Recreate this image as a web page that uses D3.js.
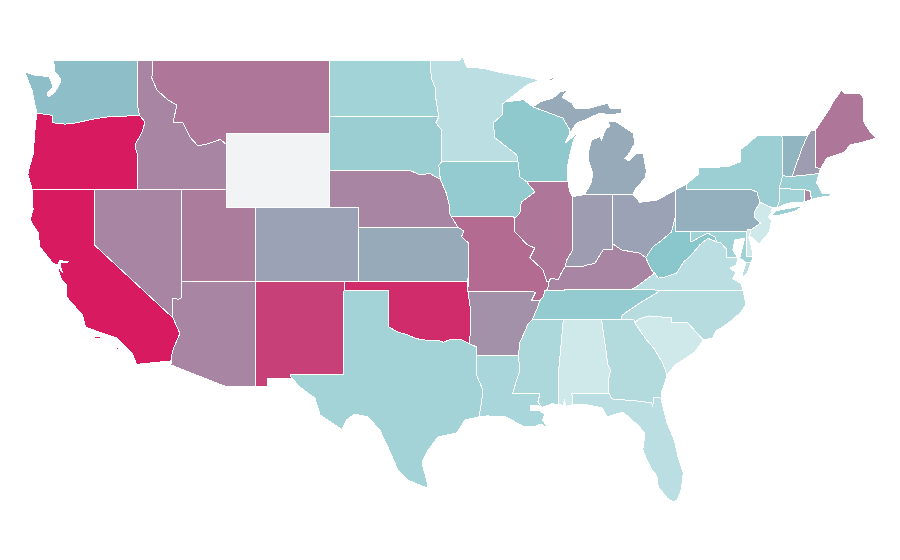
<!DOCTYPE html>
<html>
<head>
<meta charset="utf-8">
<script src="https://cdn.jsdelivr.net/npm/d3@7"></script>
<style>
html, body { margin: 0; padding: 0; background: #fff; }
svg { display: block; }
</style>
</head>
<body>
<div id="map"></div>
<script>
// value per state (null = no data)
const stateNames = ["WA","OR","CA","NV","ID","MT","WY","UT","AZ","CO","NM","ND","SD","NE","KS","OK","TX","MN","IA","MO","AR","LA","WI","IL","MI","IN","OH","KY","TN","MS","AL","GA","FL","SC","NC","VA","WV","MD","DE","PA","NJ","NY","CT","RI","MA","VT","NH","ME"];
const stateValues = [43,100,100,63,63,68,null,66,63,53,87,26,31,63,50,94,25,12,35,72,59,22,37,68,50,55,53,63,35,20,0,16,12,0,14,12,40,27,0,48,0,30,26,63,30,46,55,68];

// shared borders, [lon, lat]
const waOrBorder = [[-116.92,46],[-119.07,45.92],[-120.1,45.8],[-121.2,45.6],[-122,45.53],[-122.8,45.6],[-122.8,46],[-123.9,46.13]];
const snakeRiver = [[-116.92,46],[-116.55,45.64],[-116.75,45.1],[-117.16,44.5],[-117.23,44.3],[-117.03,43.8],[-117.03,42]];
const idMtBorder = [[-116.05,49],[-116.08,48],[-115.74,47.38],[-115,46.84],[-114.38,46.56],[-114.65,45.64],[-113.97,45.6],[-113.5,44.83],[-112.95,44.35],[-112.35,44.45],[-111.45,44.7],[-111.05,44.45]];
const nvAzBorder = [[-114.04,37],[-114.04,36.15],[-114.3,36.05],[-114.72,36.12],[-114.65,35.6],[-114.72,35.3],[-114.65,35.04]];
const caAzBorder = [[-114.65,35.04],[-114.18,34.2],[-114.58,33.47],[-114.72,33.1],[-114.72,32.72]];
const redRiver = [[-100,34.56],[-99.4,34.28],[-98.8,34.15],[-98.36,34],[-97.9,33.88],[-97.2,33.82],[-96.6,33.83],[-96.3,33.72],[-95.9,33.85],[-95.17,33.9],[-94.5,33.63]];
const sabineRiver = [[-94.04,33],[-94.04,31.95],[-93.6,31.14],[-93.7,30.5],[-93.88,29.68]];
const neIaBorder = [[-96.5,42.55],[-96.1,41.8],[-95.9,41.2],[-95.85,40.7],[-95.77,40.55]];
const moKsBorder = [[-95.77,40.55],[-95.31,39.95],[-94.9,39.75],[-95.05,39.45],[-94.6,39.1],[-94.62,37]];
const mnWiBorder = [[-92.1,46.73],[-92.3,46.6],[-92.3,46.02],[-92.9,45.6],[-92.8,44.8],[-91.3,43.86],[-91.23,43.5]];
const iaIlBorder = [[-91.23,43.5],[-91.1,42.67],[-90.65,42.42],[-90.08,41.86],[-91,41.3],[-91.1,40.72],[-91.43,40.45]];
const moIlBorder = [[-91.43,40.45],[-91.43,39.7],[-90.6,39],[-90.08,38.83],[-90.42,38.3],[-89.53,37.64],[-89.27,37],[-89.15,36.97]];
const ilKyBorder = [[-89.15,36.97],[-89,37.2],[-88.5,37.1],[-88.3,37.45],[-88.03,37.8]];
const inKyBorder = [[-88.03,37.8],[-87.57,37.8],[-86.9,37.8],[-86.55,37.9],[-86,38],[-85.45,38.72],[-84.8,38.77],[-84.78,39.05]];
const ohKyBorder = [[-84.78,39.05],[-84.2,38.72],[-82.95,38.55],[-82.55,38.3]];
const wvKyBorder = [[-82.55,38.3],[-82.3,37.85],[-82.05,37.5],[-81.95,37.47]];
const ohWvBorder = [[-82.55,38.3],[-82.05,38.9],[-81.45,39.25],[-80.8,39.7],[-80.52,40.6]];
const wvVaBorder = [[-81.95,37.47],[-81.7,37.2],[-81.25,37.25],[-80.45,37.47],[-80,38.05],[-79.35,38.55],[-78.88,39],[-78.33,39.35],[-77.72,39.15]];
const mdWvBorder = [[-77.72,39.15],[-77.85,39.42],[-78.33,39.63],[-78.9,39.4],[-79.48,39.15],[-79.48,39.71]];
const potomacRiver = [[-77.72,39.15],[-77.45,39.1],[-77.05,38.75],[-77.05,38.3],[-76.3,38.29]];
const tnArRiver = [[-89.42,36.5],[-89.5,36.2],[-89.74,35.98],[-89.9,35.6],[-90.2,35.05],[-90.25,34.95]];
const arMsRiver = [[-90.25,34.95],[-90.55,34.7],[-91.1,33.7],[-91.2,33]];
const laMsRiver = [[-91.2,33],[-91.1,32.2],[-91.6,30.95],[-89.73,30.95],[-89.87,30.5],[-89.6,30.2]];
const msAlBorder = [[-88.15,34.95],[-88.5,31.85],[-88.45,30.35]];
const alGaBorder = [[-85.55,34.95],[-85.12,32.5],[-84.92,32.2],[-85.05,31.85],[-85.05,30.97]];
const gaFlBorder = [[-85.05,30.97],[-84.86,30.66],[-83.15,30.55],[-82.15,30.45],[-82.07,30.27],[-82,30.75],[-81.5,30.7]];
const savannahRiver = [[-83.3,34.78],[-82.5,33.85],[-82,33.4],[-81.4,32.6],[-81.1,31.95]];
const ncScBorder = [[-78.65,33.85],[-79.7,34.78],[-80.8,34.78],[-80.8,35.05],[-82.3,35.15],[-83,35],[-83.3,34.78]];
const ncTnBorder = [[-84.2,34.95],[-84.15,35.2],[-82.95,35.85],[-81.7,36.45],[-81.7,36.55]];
const delawareRiver = [[-75.35,41.97],[-75,41.86],[-74.8,41.3],[-75.15,40.8],[-75.15,40.45],[-74.75,40.18],[-75.42,39.8]];
const vtNhBorder = [[-71.55,44.94],[-71.95,44.2],[-72.4,43.2],[-72.6,42.7]];
const wiMiBorder = [[-90.21,46.46],[-88.18,45.86],[-87.7,45.21]];

const rev = chain => chain.slice().reverse();

// one list of rings per state
const ringsWA = [[[-122.76,49],[-117.03,49],[-117.03,46.4],...waOrBorder,[-124.05,46.7],[-124.2,47.3],[-124.45,47.8],[-124.7,48.35],[-123.9,48.15],[-123.1,48.12],[-123,48],[-122.8,47.55],[-123.2,47.2],[-123.1,47],[-122.66,47.27],[-122.32,47.75],[-122.32,48.03],[-122.66,48.35]]];
const ringsOR = [[...rev(waOrBorder),...snakeRiver,[-124.21,42],[-124.5,42.8],[-124.4,43.2],[-124.15,43.9],[-124.08,44.6],[-124,45.4]]];
const ringsCA = [[[-124.21,42],[-120,42],[-120,39],[-114.65,35.04],...caAzBorder.slice(1),[-117.12,32.53],[-117.4,33.1],[-118.45,33.95],[-119.4,34.2],[-120.6,34.55],[-120.8,35.2],[-121.85,36.15],[-121.85,36.8],[-122.2,37.1],[-122.45,37.65],[-122.4,37.78],[-122.15,37.5],[-122.3,37.85],[-122.3,38.05],[-121.7,38.07],[-122.35,38.15],[-122.5,37.9],[-122.8,38],[-123.7,38.9],[-123.8,39.65],[-124.36,40.34],[-124.15,40.9]],
  [[-119.95,34.02],[-119.6,34.02],[-119.6,33.92],[-119.95,33.92]],[[-118.55,33.45],[-118.35,33.4],[-118.35,33.33],[-118.55,33.38]]];
const ringsNV = [[[-120,42],[-114.04,42],...nvAzBorder,[-120,39]]];
const ringsID = [[[-117.03,49],...idMtBorder,[-111.05,42],[-117.03,42],...rev(snakeRiver).slice(1),[-117.03,46.4]]];
const ringsMT = [[...idMtBorder,[-111.05,45],[-104.05,45],[-104.05,49]]];
const ringsWY = [[[-111.05,45],[-104.05,45],[-104.05,41],[-111.05,41]]];
const ringsUT = [[[-114.04,42],[-111.05,42],[-111.05,41],[-109.05,41],[-109.05,37],[-114.04,37]]];
const ringsAZ = [[...nvAzBorder,...caAzBorder.slice(1),[-114.81,32.5],[-111.07,31.33],[-109.05,31.33],[-109.05,37]]];
const ringsCO = [[[-109.05,41],[-102.05,41],[-102.05,37],[-109.05,37]]];
const ringsNM = [[[-109.05,37],[-103,37],[-103.04,32],[-106.62,32],[-106.71,31.9],[-106.53,31.78],[-108.21,31.78],[-108.21,31.33],[-109.05,31.33]]];
const ringsND = [[[-104.05,49],[-97.2,49],[-97.1,48],[-96.85,47.5],[-96.8,46.9],[-96.6,45.93],[-104.05,45.93]]];
const ringsSD = [[[-104.05,45.93],[-96.6,45.93],[-96.8,45.6],[-96.4,45.2],[-96.4,43.5],[-96.6,43.3],[-96.5,42.55],[-97.2,42.85],[-97.9,42.8],[-98.5,43],[-104.05,43]]];
const ringsNE = [[[-104.05,43],[-98.5,43],[-97.9,42.8],[-97.2,42.85],...neIaBorder,...moKsBorder.slice(1,2),[-102.05,39.95],[-102.05,41],[-104.05,41]]];
const ringsKS = [[[-102.05,39.95],...moKsBorder.slice(1),[-102.05,37]]];
const ringsOK = [[[-103,37],[-94.62,37],[-94.62,36.45],[-94.43,35.4],...rev(redRiver),[-100,36.5],[-103,36.5]]];
const ringsTX = [[[-103.04,36.5],[-100,36.5],...redRiver,[-94.04,33.48],...sabineRiver,[-94.83,29.52],[-95.37,28.82],[-96.66,28.6],[-97.4,27.8],[-97.75,27.25],[-97.68,26.98],[-97.34,26],[-97.41,25.84],[-98.7,26.27],[-99.38,26.8],[-99.92,27.8],[-100.6,28.97],[-101.41,29.68],[-102.3,29.84],[-102.84,29.54],[-103.18,29],[-104.67,29.8],[-105.01,30.7],[-106.03,31.3],[-106.71,31.9],[-106.62,32],[-103.04,32]]];
const ringsMN = [[[-97.2,49],[-95.15,49],[-95.04,49.27],[-94.7,48.62],[-93.6,48.55],[-92.3,48.3],[-90.96,48.13],[-89.74,47.92],[-90.6,47.65],...mnWiBorder,[-96.4,43.5],[-96.4,45.2],[-96.8,45.6],[-96.6,45.93],[-96.8,46.9],[-96.85,47.5],[-97.1,48]]];
const ringsIA = [[[-96.4,43.5],...iaIlBorder,[-91.6,40.55],...rev(neIaBorder),[-96.6,43.3]]];
const ringsMO = [[[-95.77,40.55],[-91.6,40.55],...moIlBorder,[-89.2,36.6],[-89.42,36.5],[-89.5,36.2],[-89.74,35.98],[-90.3,36],[-90.05,36.4],[-90.15,36.45],[-94.62,36.45],...rev(moKsBorder).slice(1,-1)]];
const ringsAR = [[[-94.62,36.45],[-90.15,36.45],[-90.05,36.4],[-90.3,36],[-89.74,35.98],[-89.9,35.6],[-90.2,35.05],...arMsRiver.slice(0),[-94.04,33],[-94.04,33.48],[-94.5,33.63],[-94.43,35.4]]];
const ringsLA = [[[-94.04,33],...laMsRiver,[-89.9,30.3],[-90.4,30.3],[-90.4,30.05],[-89.85,30.05],[-89.4,29.85],[-89.55,29.5],[-89.2,29.1],[-89.7,29.3],[-90.1,29.15],[-90.75,29.15],[-91.4,29.4],[-92,29.68],[-93.33,29.74],...rev(sabineRiver).slice(0,-1)]];
const ringsWI = [[[-92.1,46.73],[-90.85,46.85],...wiMiBorder,[-87.7,45.05],[-88.04,44.5],[-87.16,45.05],[-87.45,44.7],[-87.7,43.86],[-87.84,43.32],[-87.84,42.42],[-90.65,42.42],[-91.1,42.67],...rev(mnWiBorder).slice(0,-1)]];
const ringsIL = [[[-90.65,42.42],[-87.84,42.42],[-87.7,41.85],[-87.53,41.6],[-87.53,39.3],[-87.5,38.72],[-87.9,38.2],...rev(ilKyBorder),...rev(moIlBorder).slice(1),[-91.1,40.72],[-91,41.3],[-90.08,41.86]]];
const ringsMI = [[[-86.68,41.73],[-86.23,42.42],[-86.16,42.87],[-86.46,43.59],[-86.46,43.95],[-86.23,44.67],[-85.66,44.85],[-85.55,44.67],[-85.26,45.3],[-84.99,45.39],[-85.1,45.66],[-84.65,45.7],[-83.4,45.03],[-83.29,44.49],[-83.74,43.86],[-83.97,43.68],[-83.74,43.53],[-83.17,43.95],[-82.73,43.95],[-82.5,42.96],[-82.61,42.6],[-83.29,41.97],[-83.4,41.7],[-84.78,41.73]],
  [...wiMiBorder,[-87.7,45.05],[-87.23,45.59],[-86.68,45.75],[-85.66,46.13],[-84.99,46.02],[-84.17,46.13],[-84.17,46.4],[-84.99,46.4],[-85.12,46.67],[-86.34,46.4],[-87.36,46.4],[-87.57,46.67],[-88.24,47],[-87.84,47.38],[-88.38,47.27],[-88.58,47.11],[-88.85,46.94],[-89.74,46.73]],
  [[-89.1,47.95],[-88.5,48.17],[-88.55,48.1],[-89,47.88]],[[-83.9,45.98],[-83.6,46],[-83.6,45.93]]];
const ringsIN = [[[-87.53,41.6],[-86.68,41.73],[-84.78,41.73],...rev(inKyBorder),[-87.9,38.2],[-87.5,38.72],[-87.53,39.3]]];
const ringsOH = [[[-84.78,41.73],[-83.4,41.7],[-82.95,41.3],[-81.8,41.42],[-80.9,41.8],[-80.52,41.97],...rev(ohWvBorder),...rev(ohKyBorder)]];
const ringsKY = [[...inKyBorder,...ohKyBorder.slice(1),...wvKyBorder.slice(1),[-83.15,36.75],[-83.5,36.58],[-88.05,36.6],[-88.05,36.5],[-89.42,36.5],[-89.2,36.6],...ilKyBorder.slice(0,-1)]];
const ringsTN = [[[-89.42,36.5],[-88.05,36.5],[-88.05,36.6],[-83.5,36.58],...rev(ncTnBorder),[-90.25,34.95],...rev(tnArRiver).slice(1,-1)]];
const ringsMS = [[...msAlBorder,[-88.9,30.4],[-89.6,30.2],...rev(laMsRiver).slice(1),...rev(arMsRiver).slice(1)]];
const ringsAL = [[[-88.15,34.95],...alGaBorder,[-87.57,30.97],[-87.5,30.35],[-88,30.25],[-88.05,30.65],[-88.15,30.3],[-88.45,30.35],[-88.5,31.85]]];
const ringsGA = [[[-85.55,34.95],[-83.35,34.95],...savannahRiver,[-81.3,31.4],[-81.45,31.14],[-81.45,30.7],...rev(gaFlBorder),[-85.05,31.85],[-84.92,32.2],[-85.12,32.5]]];
const ringsFL = [[[-87.57,30.97],...gaFlBorder,[-81.45,30.43],[-81.1,29.36],[-80.6,28.4],[-80.35,27.5],[-80,26.65],[-80.12,25.8],[-80.4,25.2],[-80.7,25.08],[-81.1,25.3],[-81.7,25.9],[-81.8,26.5],[-82.2,26.9],[-82.48,27.35],[-82.75,27.9],[-82.6,28.8],[-83.1,29.25],[-84.1,29.95],[-85.2,29.68],[-85.5,30.17],[-86.8,30.38],[-87.5,30.35]]];
const ringsSC = [[...rev(ncScBorder),[-79.2,33.2],[-80.55,32.5],...rev(savannahRiver).slice(0,-1)]];
const ringsNC = [[[-81.7,36.55],[-75.95,36.55],[-75.75,35.75],[-76.15,35.3],[-76.6,35],[-76.95,34.75],[-77.75,34.35],[-78,33.95],...ncScBorder,[-83.35,34.95],...ncTnBorder.slice(0,-1)]];
const ringsVA = [[[-83.5,36.58],[-83.15,36.75],...wvVaBorder,...potomacRiver.slice(1),[-76.4,37.9],[-76.84,37.75],[-76.45,37.5],[-76.64,37.15],[-76.35,37.05],[-76.1,36.9],[-75.95,36.55],[-81.7,36.55]],
  [[-75.75,38.02],[-75.4,38.02],[-75.65,37.5],[-75.96,37.2],[-75.95,37.5]]];
const ringsWV = [[[-80.52,40.6],[-80.52,39.71],...rev(mdWvBorder),...rev(wvVaBorder).slice(1),[-82.05,37.5],[-82.3,37.85],...ohWvBorder]];
const ringsMD = [[[-79.48,39.71],[-75.7,39.71],[-75.7,38.35],[-75.25,38.35],[-75.4,38.02],[-75.75,38.02],[-76.16,38.29],[-76.03,38.72],[-75.82,39.37],[-76.5,39.26],[-76.64,38.72],...rev(potomacRiver),...mdWvBorder.slice(1,-1)]];
const ringsDE = [[[-75.7,39.71],[-75.6,39.83],[-75.42,39.8],[-75.55,39.4],[-75.4,39],[-75.25,38.35],[-75.7,38.35]]];
const ringsPA = [[[-80.52,41.97],[-79.76,42.3],[-79.76,41.97],...delawareRiver,[-75.6,39.83],[-75.7,39.71],[-80.52,39.71]]];
const ringsNJ = [[...delawareRiver.slice(2),[-75.5,39.5],[-74.85,39.05],[-74.15,39.7],[-74,40.35],[-74.25,40.5],[-74.05,40.7],[-73.95,41]]];
const ringsNY = [[[-79.76,42.3],[-79,42.8],[-78.95,43.16],[-77.65,43.2],[-76.85,43.26],[-76.1,43.5],[-76.15,44.13],[-75.7,44.4],[-74.95,44.94],[-73.3,44.94],[-73.25,43.6],[-73.25,42.73],[-73.5,42.05],[-73.5,41.3],[-73.65,41],[-73.95,41],[-74.8,41.3],[-75,41.86],[-75.35,41.97],[-79.76,41.97]],
  [[-74,40.6],[-73.7,40.85],[-72.6,41],[-72,41.1],[-71.9,41.05],[-72.5,40.8],[-73.5,40.6]]];
const ringsCT = [[[-73.5,42.05],[-71.75,41.98],[-71.8,41.32],[-72.9,41.25],[-73.65,41],[-73.5,41.3]]];
const ringsRI = [[[-71.75,41.98],[-71.38,41.9],[-71.3,41.45],[-71.8,41.32]]];
const ringsMA = [[[-73.5,42.05],[-73.25,42.73],[-72.6,42.7],[-70.8,42.85],[-70.95,42.35],[-70.75,42.1],[-70.55,41.78],[-70.05,41.8],[-70,41.65],[-70.6,41.58],[-71.1,41.5],[-71.3,41.45],[-71.38,41.9],[-71.75,41.98]]];
const ringsVT = [[[-73.3,44.94],...vtNhBorder,[-73.25,42.73],[-73.25,43.6]]];
const ringsNH = [[...vtNhBorder.slice(0,1),[-71.3,45.2],[-71.05,45.2],[-71,43.2],[-70.7,43.1],[-70.8,42.85],...rev(vtNhBorder).slice(0,-1)]];
const ringsME = [[[-71.05,45.2],[-70.2,46.19],[-69.85,46.7],[-69.25,47.38],[-69.05,47.16],[-68,47.2],[-67.8,47],[-67.75,45.65],[-67.3,45.1],[-66.9,44.78],[-67.8,44.56],[-68.7,44.4],[-69.05,44.02],[-70.25,43.7],[-70.7,43.1],[-71,43.2]]];

const stateRings = [ringsWA,ringsOR,ringsCA,ringsNV,ringsID,ringsMT,ringsWY,ringsUT,ringsAZ,ringsCO,ringsNM,ringsND,ringsSD,ringsNE,ringsKS,ringsOK,ringsTX,ringsMN,ringsIA,ringsMO,ringsAR,ringsLA,ringsWI,ringsIL,ringsMI,ringsIN,ringsOH,ringsKY,ringsTN,ringsMS,ringsAL,ringsGA,ringsFL,ringsSC,ringsNC,ringsVA,ringsWV,ringsMD,ringsDE,ringsPA,ringsNJ,ringsNY,ringsCT,ringsRI,ringsMA,ringsVT,ringsNH,ringsME];

const width = 900;
const height = 560;

const svg = d3.select("#map")
    .append("svg")
    .attr("width", width)
    .attr("height", height);

const x = d3.scaleLinear().domain([-124.7, -66.95]).range([25, 875.5]);
const y = d3.scaleLinear().domain([49, 25]).range([60, 503.5]);

const color = d3.scaleLinear()
    .domain([0, 40, 100])
    .range(["#cfe8ea", "#8ac7cc", "#d81b60"]);

const path = d3.geoPath().projection(d3.geoTransform({
    point: function(lon, lat) { this.stream.point(x(lon), y(lat)); }
}));

const features = stateNames.map((name, i) => ({
    type: "Feature",
    id: name,
    properties: { value: stateValues[i] },
    geometry: { type: "MultiPolygon", coordinates: stateRings[i].map(r => [r.concat([r[0]])]) }
}));

svg.selectAll(".state")
    .data(features)
    .enter().append("path")
    .attr("class", "state")
    .attr("d", path)
    .attr("fill", d => d.properties.value === null ? "#f2f3f5" : color(d.properties.value))
    .attr("stroke", "#fff")
    .attr("stroke-width", 1)
    .attr("stroke-linejoin", "round")
    .attr("shape-rendering", "crispEdges");
</script>
</body>
</html>
